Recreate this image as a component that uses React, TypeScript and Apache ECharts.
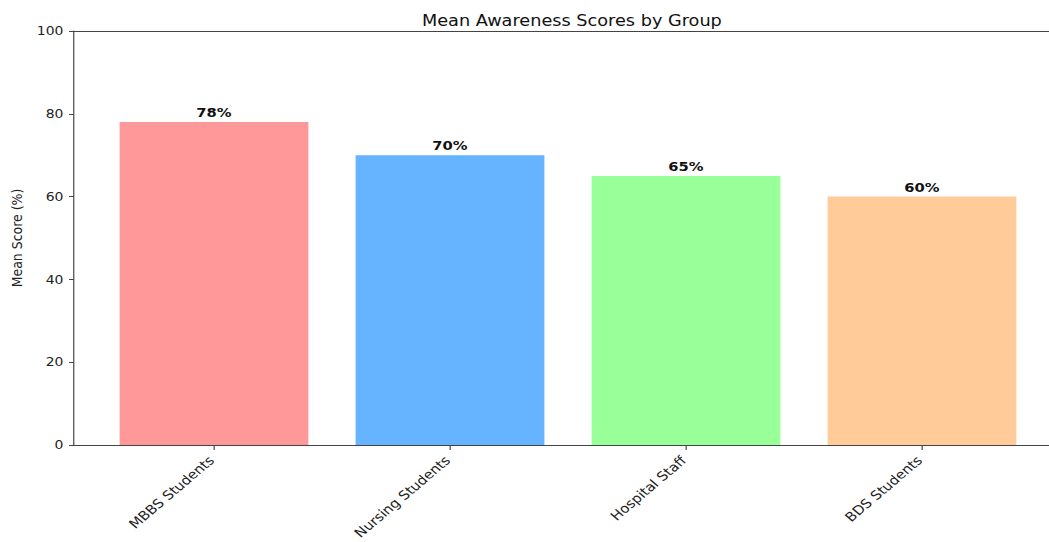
import React, { useEffect, useRef } from "react";
import * as echarts from "echarts";

const categories = ["MBBS Students", "Nursing Students", "Hospital Staff", "BDS Students"];
const meanScores = [78, 70, 65, 60];
const barColors = ["#ff9999", "#66b3ff", "#99ff99", "#ffcc99"];
const yTicks = { min: 0, max: 100, interval: 20 };

const FONT = "DejaVu Sans";
const SPINE = "#444";
// The reference picture is stretched horizontally; draw narrower and stretch the same way.
const STRETCH = 1.18;
const PAGE_W = 1049;
const PAGE_H = 542;
const CHART_W = PAGE_W / STRETCH;
const sx = (px: number) => px / STRETCH;

export default function App() {
  const ref = useRef<HTMLDivElement>(null);
  useEffect(() => {
    if (!ref.current) return;
    const chart = echarts.init(ref.current, null, { renderer: "svg" });
    chart.setOption({
      animation: false,
      backgroundColor: "#ffffff",
      title: {
        text: "Mean Awareness Scores by Group",
        left: sx(566),
        top: 8,
        textAlign: "center",
        textStyle: { fontFamily: FONT, fontSize: 15, fontWeight: "normal", color: "#111" },
      },
      grid: [
        { left: sx(74), width: sx(987), top: 31, bottom: 97, outerBoundsMode: "none", containLabel: false },
        { left: sx(96), width: sx(944), top: 31, bottom: 97, outerBoundsMode: "none", containLabel: false },
      ],
      xAxis: [
        {
          type: "value",
          gridIndex: 0,
          min: 0,
          max: 1,
          axisLine: { show: true, lineStyle: { color: SPINE } },
          axisTick: { show: false },
          axisLabel: { show: false },
          splitLine: { show: false },
          z: 5,
        },
        {
          type: "category",
          gridIndex: 1,
          data: categories,
          axisLine: { show: false },
          axisTick: { show: true, alignWithLabel: true, length: 5, lineStyle: { color: SPINE } },
          axisLabel: {
            rotate: 45,
            margin: 11,
            padding: [0, 3, 0, 0],
            fontFamily: FONT,
            fontSize: 12.6,
            color: "#222",
            interval: 0,
          },
          splitLine: { show: false },
        },
        {
          type: "value",
          gridIndex: 0,
          position: "top",
          min: 0,
          max: 1,
          axisLine: { show: true, onZero: false, lineStyle: { color: SPINE } },
          axisTick: { show: false },
          axisLabel: { show: false },
          splitLine: { show: false },
        },
      ],
      yAxis: [
        {
          type: "value",
          gridIndex: 0,
          min: yTicks.min,
          max: yTicks.max,
          interval: yTicks.interval,
          name: "Mean Score (%)",
          nameLocation: "middle",
          nameGap: 40,
          nameTextStyle: { fontFamily: FONT, fontSize: 12.5, color: "#222" },
          axisLine: { show: true, lineStyle: { color: SPINE } },
          axisTick: { show: true, length: 4.2, lineStyle: { color: SPINE } },
          axisLabel: { fontFamily: FONT, fontSize: 11.8, color: "#222", margin: 9 },
          splitLine: { show: false },
        },
        {
          type: "value",
          gridIndex: 1,
          min: yTicks.min,
          max: yTicks.max,
          show: false,
        },
      ],
      series: [
        {
          type: "bar",
          xAxisIndex: 1,
          yAxisIndex: 1,
          barWidth: "80%",
          data: meanScores.map((v, i) => ({
            value: v,
            itemStyle: { color: barColors[i], borderColor: barColors[i], borderWidth: 0 },
          })),
          label: {
            show: true,
            position: "top",
            distance: 3,
            formatter: "{c}%",
            fontFamily: FONT,
            fontSize: 12.5,
            fontWeight: "bold",
            color: "#111",
          },
        },
      ],
    });
    return () => chart.dispose();
  }, []);
  return (
    <div
      style={{
        position: "fixed",
        left: 0,
        top: 0,
        width: PAGE_W,
        height: PAGE_H,
        background: "#fff",
        overflow: "hidden",
      }}
    >
      <div
        ref={ref}
        style={{
          width: CHART_W,
          height: PAGE_H,
          transform: `scaleX(${STRETCH})`,
          transformOrigin: "0 0",
        }}
      />
    </div>
  );
}
